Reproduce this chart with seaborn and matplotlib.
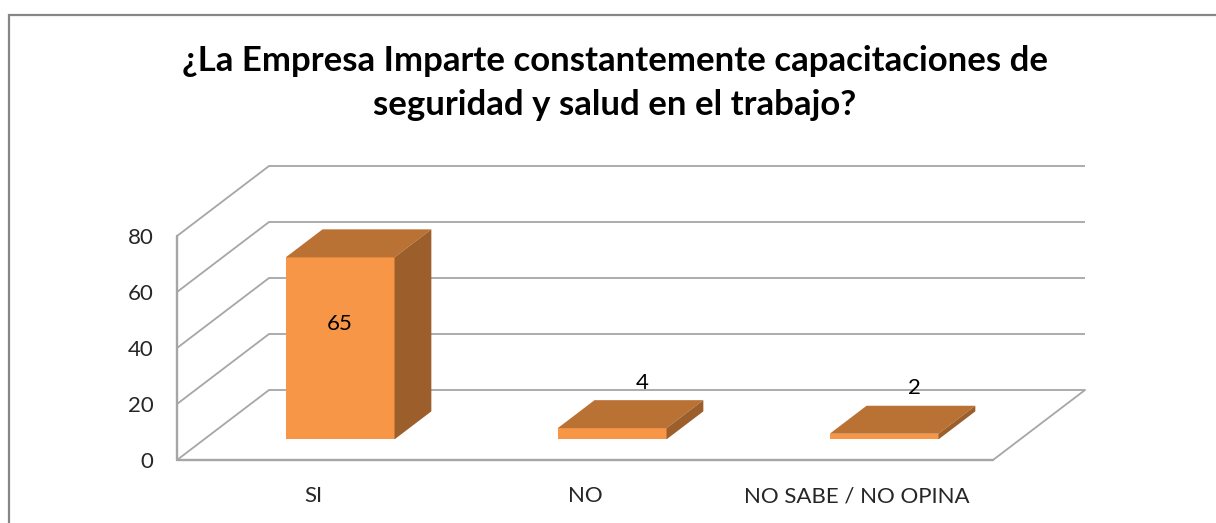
import matplotlib
matplotlib.use("Agg")
import matplotlib.pyplot as plt
from matplotlib.patches import Polygon, Rectangle
from matplotlib.lines import Line2D
from matplotlib.transforms import offset_copy, IdentityTransform
import seaborn as sns

# ---- data ----
categories = ["SI", "NO", "NO SABE / NO OPINA"]
values = [65, 4, 2]
y_ticks = [0, 20, 40, 60, 80]
title = "¿La Empresa Imparte constantemente capacitaciones de\nseguridad y salud en el trabajo?"

# ---- style ----
FRONT = "#F79646"
TOP = "#BA7134"
SIDE = "#9C5E2B"
GRID = "#A6A6A6"
FONT = "Lato"

sns.set_theme(style="white")
plt.rcParams["font.family"] = [FONT, "DejaVu Sans"]

W, H, DPI = 1216, 523, 100
fig = plt.figure(figsize=(W / DPI, H / DPI), dpi=DPI)
fig.patch.set_facecolor("white")

# front plane of the 3D box
ax = fig.add_axes([177 / W, 63 / H, 816 / W, 224 / H])
ax.set_facecolor("none")

# oblique depth of the box, in pixels
DX, DY = 92, 70
T_FRONT, T_BACK = 0.295, 0.695


def shift(t, dx=0.0, dy=0.0):
    return offset_copy(ax.transData, fig=fig, x=DX * t + dx, y=DY * t + dy, units="dots")


def to_disp(x, y, t):
    px, py = ax.transData.transform((x, y))
    return (px + DX * t, py + DY * t)


sns.barplot(x=categories, y=values, width=0.4, color=FRONT, saturation=1,
            ax=ax, zorder=5, edgecolor="none", linewidth=0)
ax.set_xlim(-0.5, len(categories) - 0.5)
ax.set_ylim(y_ticks[0], y_ticks[-1])
for s in ax.spines.values():
    s.set_visible(False)
ax.grid(False)

x_left, x_right = -0.5, len(categories) - 0.5
ident = IdentityTransform()
lw = 1.3

# walls: back gridlines and side-wall diagonals
for v in y_ticks:
    ax.plot([x_left, x_right], [v, v], color=GRID, lw=lw, transform=shift(1.0),
            clip_on=False, zorder=1, solid_capstyle="butt")
    p0 = to_disp(x_left, v, 0.0)
    p1 = to_disp(x_left, v, 1.0)
    ax.add_line(Line2D([p0[0], p1[0]], [p0[1], p1[1]], color=GRID, lw=lw,
                       transform=ident, clip_on=False, zorder=1))
# floor front edge and right edge
ax.plot([x_left, x_right], [0, 0], color=GRID, lw=lw + 0.4, clip_on=False, zorder=1)
q0 = to_disp(x_right, 0, 0.0)
q1 = to_disp(x_right, 0, 1.0)
ax.add_line(Line2D([q0[0], q1[0]], [q0[1], q1[1]], color=GRID, lw=lw,
                   transform=ident, clip_on=False, zorder=1))
# front vertical axis
ax.plot([x_left, x_left], [y_ticks[0], y_ticks[-1]], color=GRID, lw=lw + 0.4,
        clip_on=False, zorder=1)

# 3D bars: shift front faces into depth and add top and side faces
for p, v in zip(ax.patches, values):
    p.set_transform(shift(T_FRONT))
    p.set_clip_on(False)
    x0 = p.get_x()
    x1 = x0 + p.get_width()
    h = p.get_height()
    top = [to_disp(x0, h, T_FRONT), to_disp(x1, h, T_FRONT),
           to_disp(x1, h, T_BACK), to_disp(x0, h, T_BACK)]
    side = [to_disp(x1, 0, T_FRONT), to_disp(x1, h, T_FRONT),
            to_disp(x1, h, T_BACK), to_disp(x1, 0, T_BACK)]
    ax.add_patch(Polygon(top, closed=True, facecolor=TOP, edgecolor="none",
                         transform=ident, clip_on=False, zorder=5))
    ax.add_patch(Polygon(side, closed=True, facecolor=SIDE, edgecolor="none",
                         transform=ident, clip_on=False, zorder=5))

    xc = x0 + p.get_width() / 2
    if h > 20:
        ax.text(xc, h / 2, f"{v}", transform=shift(T_FRONT, dy=24), ha="center",
                va="center", fontsize=16, color="black", zorder=6)
    else:
        ax.text(xc, h, f"{v}", transform=shift(0.5, dx=11, dy=31), ha="center",
                va="center", fontsize=16, color="black", zorder=6)

# axes labels
ax.set_yticks(y_ticks)
ax.set_yticklabels([str(t) for t in y_ticks], fontsize=16)
ax.tick_params(axis="y", length=0, pad=17)
ax.tick_params(axis="x", length=0, pad=19, labelsize=16)
ax.set_xlabel("")
ax.set_ylabel("")

# title
fig.text(615 / W, 1 - 83 / H, title, ha="center", va="center", fontsize=25,
         fontweight="bold", linespacing=1.45, color="black")

# chart frame
fig.add_artist(Rectangle((9 / W, -0.1), 1.2, 1.1 - 15 / H, transform=fig.transFigure,
                         fill=False, edgecolor="#868686", lw=1.6, zorder=0))

fig.savefig("out.png", dpi=DPI)
